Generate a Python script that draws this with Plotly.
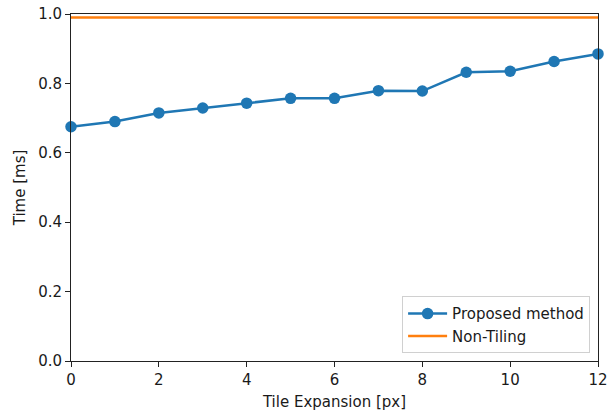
import plotly.graph_objects as go

tile_expansion = list(range(13))
proposed = [0.675, 0.690, 0.715, 0.729, 0.743, 0.757, 0.757, 0.779, 0.778, 0.832, 0.835, 0.863, 0.885]
non_tiling = 0.99
x_ticks = [0, 2, 4, 6, 8, 10, 12]
y_ticks = [0.0, 0.2, 0.4, 0.6, 0.8, 1.0]

FONT = "DejaVu Sans, Liberation Sans, Arial, sans-serif"
TXT = "#1a1a1a"

fig = go.Figure()
fig.add_trace(go.Scatter(x=tile_expansion, y=proposed, mode="lines+markers",
                         name="Proposed method",
                         line=dict(color="#1f77b4", width=2.5),
                         marker=dict(color="#1f77b4", size=11.5),
                         cliponaxis=False))
fig.add_trace(go.Scatter(x=[tile_expansion[0], tile_expansion[-1]], y=[non_tiling, non_tiling],
                         mode="lines", name="Non-Tiling",
                         line=dict(color="#ff7f0e", width=2.5)))

axis_common = dict(showgrid=False, zeroline=False, showline=True, linecolor="#222",
                   linewidth=1, mirror=True, ticks="outside", ticklen=5, tickwidth=1,
                   tickcolor="#222", tickfont=dict(size=15, color=TXT, family=FONT),
                   automargin=False)
fig.update_layout(
    width=608, height=412,
    margin=dict(l=71, r=10, t=14, b=51),
    plot_bgcolor="white", paper_bgcolor="white",
    font=dict(family=FONT, size=15, color=TXT),
    xaxis=dict(range=[0, 12], tickvals=x_ticks,
               title=dict(text="Tile Expansion [px]", standoff=8, font=dict(size=15)),
               **axis_common),
    yaxis=dict(range=[0, 1.0], tickvals=y_ticks, tickformat=".1f",
               title=dict(text="Time [ms]", standoff=8, font=dict(size=15)),
               **axis_common),
    legend=dict(x=0.985, xanchor="right", y=0.022, yanchor="bottom",
                bgcolor="rgba(255,255,255,0.8)", bordercolor="#d0d0d0", borderwidth=1,
                font=dict(size=15), itemwidth=39, tracegroupgap=0),
    showlegend=True,
)
fig.write_html("out.html", config={"displayModeBar": False},
               post_script="document.body.style.margin='0';")
